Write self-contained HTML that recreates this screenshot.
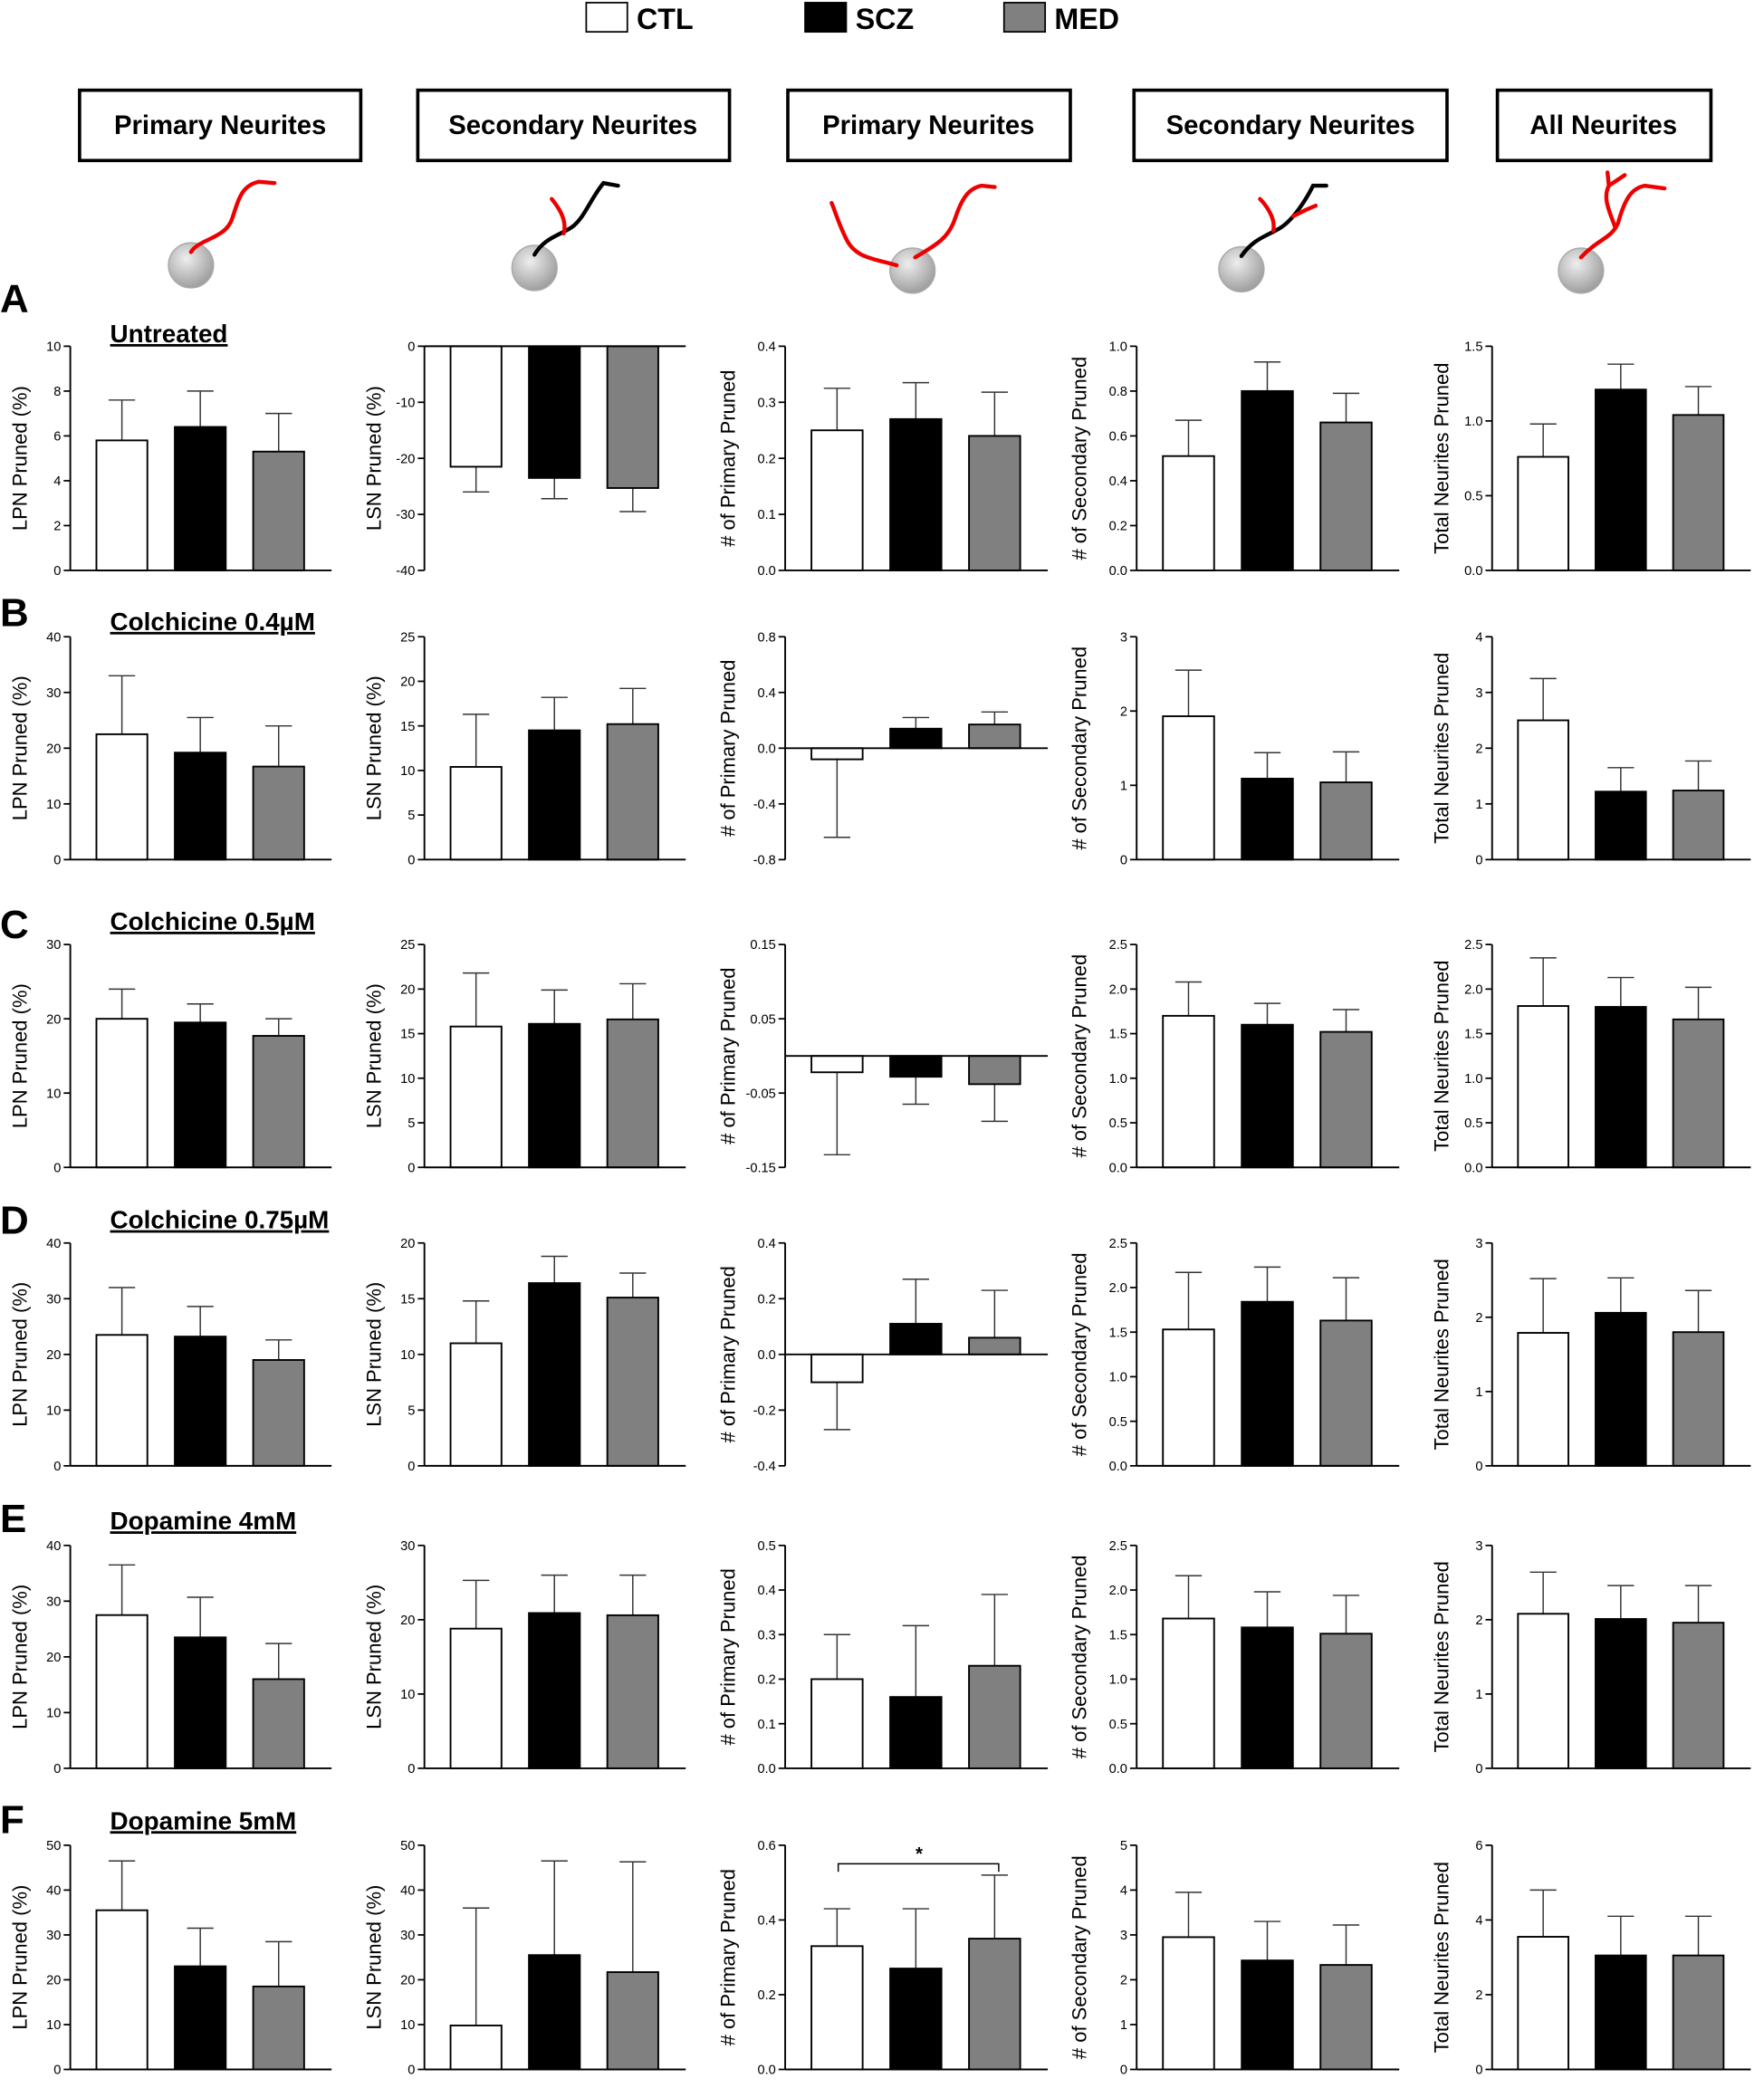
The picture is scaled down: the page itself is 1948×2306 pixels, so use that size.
<!DOCTYPE html>
<html><head><meta charset="utf-8"><style>
html,body{margin:0;padding:0;background:#fff;}
svg{display:block;}
text{font-family:"Liberation Sans","DejaVu Sans",sans-serif;}
</style></head><body>
<svg id="s" width="1948" height="2306" viewBox="0 0 1330 1574" preserveAspectRatio="none" xmlns="http://www.w3.org/2000/svg">
<rect width="1330" height="1574" fill="#fff"/>
<rect x="442" y="2" width="31" height="22" fill="#fff" stroke="#000" stroke-width="1.2"/>
<text x="480" y="22" font-size="22" font-weight="bold">CTL</text>
<rect x="607" y="2" width="31" height="22" fill="#000" stroke="#000" stroke-width="1.2"/>
<text x="645" y="22" font-size="22" font-weight="bold">SCZ</text>
<rect x="757" y="2" width="31" height="22" fill="#808080" stroke="#000" stroke-width="1.2"/>
<text x="795" y="22" font-size="22" font-weight="bold">MED</text>
<g fill="#fff" stroke="#000" stroke-width="2.5">
<rect x="60" y="68" width="212" height="53"/><rect x="315" y="68" width="235" height="53"/>
<rect x="594" y="68" width="213" height="53"/><rect x="855" y="68" width="236" height="53"/>
<rect x="1129" y="68" width="161" height="53"/></g>
<g font-size="20" font-weight="bold" text-anchor="middle">
<text x="166" y="101">Primary Neurites</text><text x="432" y="101">Secondary Neurites</text>
<text x="700" y="101">Primary Neurites</text><text x="973" y="101">Secondary Neurites</text>
<text x="1209" y="101">All Neurites</text></g>
<defs><radialGradient id="g" cx="0.4" cy="0.35" r="0.7"><stop offset="0" stop-color="#eee"/><stop offset="1" stop-color="#999"/></radialGradient></defs>
<g fill="url(#g)" stroke="#aaa"><circle cx="144" cy="200" r="17"/><circle cx="403" cy="202" r="17"/><circle cx="688" cy="204" r="17"/><circle cx="936" cy="203" r="17"/><circle cx="1192" cy="204" r="17"/></g>
<g fill="none" stroke-width="3" stroke-linecap="round">
<path d="M144 190 C150 180 170 180 175 165 C180 150 182 140 195 137 L207 138" stroke="#e00"/>
<path d="M403 192 C410 180 420 178 430 172 C440 166 445 150 455 138 L466 140" stroke="#000"/>
<path d="M425 176 C428 165 420 155 416 150" stroke="#e00"/>
<path d="M676 200 C660 195 645 195 638 180 C632 168 630 160 627 153" stroke="#e00"/>
<path d="M690 194 C705 185 715 180 720 165 C725 150 730 142 740 140 L750 141" stroke="#e00"/>
<path d="M936 193 C945 180 955 178 965 172 C975 166 985 150 990 140 L1000 140" stroke="#000"/>
<path d="M960 174 C962 165 955 155 950 150" stroke="#e00"/>
<path d="M975 163 L985 158 L992 155" stroke="#e00"/>
<path d="M1192 194 C1205 180 1215 180 1220 168 C1225 150 1230 142 1240 140 L1255 142" stroke="#e00"/>
<path d="M1218 172 C1214 160 1208 150 1213 140 L1212 130 M1213 140 L1225 132" stroke="#e00"/>
</g>
<g id="charts"></g>
</svg>
<script>
(function(){
var g=document.getElementById("charts"),out="";
var cols=[[53,250],[320,517],[592,790],[857,1055],[1125,1320]];
var rows=[[261,430],[480,648],[712,880],[937,1105],[1165,1333],[1391,1560]];
var ylab=["LPN Pruned (%)","LSN Pruned (%)","# of Primary Pruned","# of Secondary Pruned","Total Neurites Pruned"];
var D=[
[[0,10,[0,2,4,6,8,10],0,[5.8,6.4,5.3],[7.6,8.0,7.0]],[-40,0,[-40,-30,-20,-10,0],0,[-21.5,-23.5,-25.3],[-26,-27.2,-29.5]],[0,.4,[0,.1,.2,.3,.4],1,[.25,.27,.24],[.325,.335,.318]],[0,1,[0,.2,.4,.6,.8,1],1,[.51,.80,.66],[.67,.93,.79]],[0,1.5,[0,.5,1,1.5],1,[.76,1.21,1.04],[.98,1.38,1.23]]],
[[0,40,[0,10,20,30,40],0,[22.5,19.2,16.7],[33,25.5,24]],[0,25,[0,5,10,15,20,25],0,[10.4,14.5,15.2],[16.3,18.2,19.2]],[-.8,.8,[-.8,-.4,0,.4,.8],1,[-.08,.14,.17],[-.64,.22,.26]],[0,3,[0,1,2,3],0,[1.93,1.09,1.04],[2.55,1.44,1.45]],[0,4,[0,1,2,3,4],0,[2.5,1.22,1.24],[3.25,1.65,1.77]]],
[[0,30,[0,10,20,30],0,[20,19.5,17.7],[24,22,20]],[0,25,[0,5,10,15,20,25],0,[15.8,16.1,16.6],[21.8,19.9,20.6]],[-.15,.15,[-.15,-.05,.05,.15],2,[-.022,-.028,-.038],[-.133,-.065,-.088]],[0,2.5,[0,.5,1,1.5,2,2.5],1,[1.7,1.6,1.52],[2.08,1.84,1.77]],[0,2.5,[0,.5,1,1.5,2,2.5],1,[1.81,1.8,1.66],[2.35,2.13,2.02]]],
[[0,40,[0,10,20,30,40],0,[23.5,23.2,19],[32,28.6,22.6]],[0,20,[0,5,10,15,20],0,[11,16.4,15.1],[14.8,18.8,17.3]],[-.4,.4,[-.4,-.2,0,.2,.4],1,[-.1,.11,.06],[-.27,.27,.23]],[0,2.5,[0,.5,1,1.5,2,2.5],1,[1.53,1.84,1.63],[2.17,2.23,2.11]],[0,3,[0,1,2,3],0,[1.79,2.06,1.8],[2.52,2.53,2.36]]],
[[0,40,[0,10,20,30,40],0,[27.5,23.5,16],[36.5,30.7,22.4]],[0,30,[0,10,20,30],0,[18.8,20.9,20.6],[25.3,26,26]],[0,.5,[0,.1,.2,.3,.4,.5],1,[.2,.16,.23],[.3,.32,.39]],[0,2.5,[0,.5,1,1.5,2,2.5],1,[1.68,1.58,1.51],[2.16,1.98,1.94]],[0,3,[0,1,2,3],0,[2.08,2.01,1.96],[2.64,2.46,2.46]]],
[[0,50,[0,10,20,30,40,50],0,[35.5,23,18.5],[46.5,31.5,28.5]],[0,50,[0,10,20,30,40,50],0,[9.8,25.5,21.7],[36,46.5,46.3]],[0,.6,[0,.2,.4,.6],1,[.33,.27,.35],[.43,.43,.52]],[0,5,[0,1,2,3,4,5],0,[2.95,2.43,2.33],[3.95,3.3,3.22]],[0,6,[0,2,4,6],0,[3.55,3.05,3.05],[4.8,4.1,4.1]]]
];
var fills=["#fff","#000","#808080"];
for(var r=0;r<6;r++)for(var c=0;c<5;c++){
 var d=D[r][c],x0=cols[c][0],x1=cols[c][1],yt=rows[r][0],yb=rows[r][1];
 var mn=d[0],mx=d[1];
 var Y=function(v){return yb-(v-mn)/(mx-mn)*(yb-yt);};
 var y0=Y(0),w=(x1-x0);
 for(var i=0;i<3;i++){
  var bx=x0+w*(0.1+0.3*i),bw=w*0.195,v=d[4][i],e=d[5][i];
  var yv=Y(v),ry=Math.min(yv,y0),h=Math.abs(yv-y0);
  var cx=bx+bw/2,ye=Y(e);
  out+='<line x1="'+cx+'" y1="'+yv+'" x2="'+cx+'" y2="'+ye+'" stroke="#333" stroke-width="1"/>';
  out+='<line x1="'+(cx-10)+'" y1="'+ye+'" x2="'+(cx+10)+'" y2="'+ye+'" stroke="#333" stroke-width="1"/>';
  out+='<rect x="'+bx+'" y="'+ry+'" width="'+bw+'" height="'+h+'" fill="'+fills[i]+'" stroke="#000" stroke-width="1.3"/>';
 }
 out+='<line x1="'+x0+'" y1="'+yt+'" x2="'+x0+'" y2="'+yb+'" stroke="#000" stroke-width="1.3"/>';
 out+='<line x1="'+x0+'" y1="'+y0+'" x2="'+x1+'" y2="'+y0+'" stroke="#000" stroke-width="1.3"/>';
 for(var k=0;k<d[2].length;k++){
  var tv=d[2][k],ty=Y(tv),lab=d[3]==0?String(tv):tv.toFixed(d[3]);
  out+='<line x1="'+(x0-5)+'" y1="'+ty+'" x2="'+x0+'" y2="'+ty+'" stroke="#000" stroke-width="1.2"/>';
  out+='<text x="'+(x0-7)+'" y="'+(ty+3.5)+'" font-size="10" text-anchor="end">'+lab+'</text>';
 }
 var lx=x0-(c==2||c==3?38:33),ly=(yt+yb)/2;
 out+='<text transform="translate('+lx+','+ly+') rotate(-90)" font-size="15" text-anchor="middle">'+ylab[c]+'</text>';
}
out+='<path d="M632 1411 L632 1405 L753 1405 L753 1411" fill="none" stroke="#000" stroke-width="1"/><text x="693" y="1402" font-size="14" font-weight="bold" text-anchor="middle">*</text>';
var L=["A","B","C","D","E","F"],LY=[235,472,707,930,1155,1382];
var T=["Untreated","Colchicine 0.4µM","Colchicine 0.5µM","Colchicine 0.75µM","Dopamine 4mM","Dopamine 5mM"],TY=[258,475,701,926,1153,1379];
for(var i=0;i<6;i++){
 out+='<text x="0" y="'+LY[i]+'" font-size="30" font-weight="bold">'+L[i]+'</text>';
 out+='<text x="83" y="'+TY[i]+'" font-size="19" font-weight="bold" text-decoration="underline">'+T[i]+'</text>';
}
g.innerHTML=out;
})();
</script>
</body></html>
